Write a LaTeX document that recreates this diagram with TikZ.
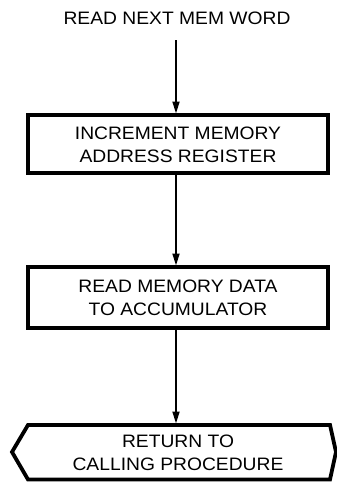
\documentclass[tikz,border=0pt]{standalone}
\usepackage{fontspec}
\setmainfont[FakeStretch=1.07]{Liberation Sans}
\usetikzlibrary{arrows.meta}
\begin{document}
\begin{tikzpicture}[x=1pt,y=-1pt,
  txt/.style={font=\fontsize{18}{23}\selectfont, align=center, inner sep=0pt},
  boxline/.style={line width=3.8pt, line join=miter},
  flow/.style={line width=1.7pt, -{Triangle[length=12pt,width=7pt]}}]
\useasboundingbox (0,0) rectangle (337,482);
\node[txt] (title) at (177,18) {READ NEXT MEM WORD};
\draw[boxline] (28,115) rectangle (328,173);
\coordinate (b1t) at (176,113.5);
\coordinate (b1b) at (176,174);
\node[txt] (b1) at (178,145) {INCREMENT MEMORY\\ADDRESS REGISTER};
\draw[boxline] (28,267) rectangle (328,328);
\coordinate (b2t) at (176,265.5);
\coordinate (b2b) at (176,329);
\node[txt] (b2) at (178,298) {READ MEMORY DATA\\TO ACCUMULATOR};
\draw[boxline] (28,425) -- (330,425) -- (336,452) -- (330,479.5) -- (28,479.5) -- (12,452) -- cycle;
\coordinate (b3t) at (176,423.5);
\node[txt] (b3) at (178,453) {RETURN TO\\CALLING PROCEDURE};
\coordinate (t0) at (176,40);
\draw[flow] (t0) -- (b1t);
\draw[flow] (b1b) -- (b2t);
\draw[flow] (b2b) -- (b3t);
\end{tikzpicture}
\end{document}
